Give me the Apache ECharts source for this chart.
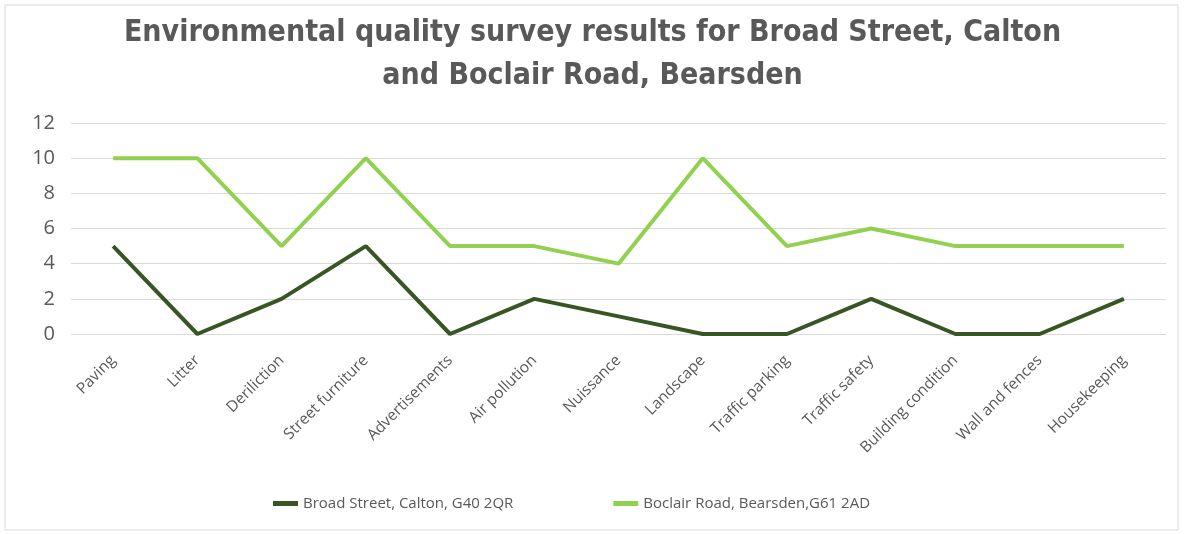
<!DOCTYPE html>
<html><head><meta charset="utf-8">
<script src="https://cdn.jsdelivr.net/npm/echarts@6/dist/echarts.min.js"></script>
<style>html,body{margin:0;padding:0;background:#fff}#c{width:1185px;height:534px}</style>
</head><body><div id="c"></div>
<script>
const categories = ["Paving","Litter","Deriliction","Street furniture","Advertisements","Air pollution","Nuissance","Landscape","Traffic parking","Traffic safety","Building condition","Wall and fences","Housekeeping"];
const seriesNames = ["Broad Street, Calton, G40 2QR","Boclair Road, Bearsden,G61 2AD"];
const broadStreet = [5,0,2,5,0,2,1,0,0,2,0,0,2];
const boclairRoad = [10,10,5,10,5,5,4,10,5,6,5,5,5];
const yTicks = [0,2,4,6,8,10,12];
const titleText = "Environmental quality survey results for Broad Street, Calton\nand Boclair Road, Bearsden";

const chart = echarts.init(document.getElementById('c'));
const tfont = '"DejaVu Sans Condensed","DejaVu Sans",sans-serif';
const font = '"Open Sans",sans-serif';
chart.setOption({
  animation:false,
  title:{text:titleText,left:'center',top:7,textStyle:{fontFamily:tfont,fontSize:30,fontWeight:'bold',color:'#595959',lineHeight:43}},
  graphic:[{type:'rect',shape:{x:5,y:5,width:1173,height:525},style:{fill:'none',stroke:'#d9d9d9',lineWidth:1},silent:true}],
  grid:{left:71,right:19,top:123,bottom:200},
  legend:{top:491,left:268,itemWidth:25,itemHeight:5,itemGap:100,icon:'rect',
    textStyle:{fontFamily:font,fontSize:15,color:'#595959'},data:seriesNames},
  xAxis:{type:'category',data:categories,boundaryGap:true,
    axisLine:{show:false},axisTick:{show:false},
    axisLabel:{rotate:45,interval:0,fontFamily:font,fontSize:15.5,color:'#595959',margin:24}},
  yAxis:{type:'value',min:yTicks[0],max:yTicks[yTicks.length-1],interval:yTicks[1]-yTicks[0],
    axisLabel:{fontFamily:font,fontSize:20,color:'#595959',margin:16},
    splitLine:{lineStyle:{color:'#d9d9d9',width:1}}},
  series:[
    {name:seriesNames[0],type:'line',data:broadStreet,symbol:'none',lineStyle:{color:'#375623',width:4},itemStyle:{color:'#375623'}},
    {name:seriesNames[1],type:'line',data:boclairRoad,symbol:'none',lineStyle:{color:'#92D050',width:4},itemStyle:{color:'#92D050'}}
  ]
});
</script></body></html>
